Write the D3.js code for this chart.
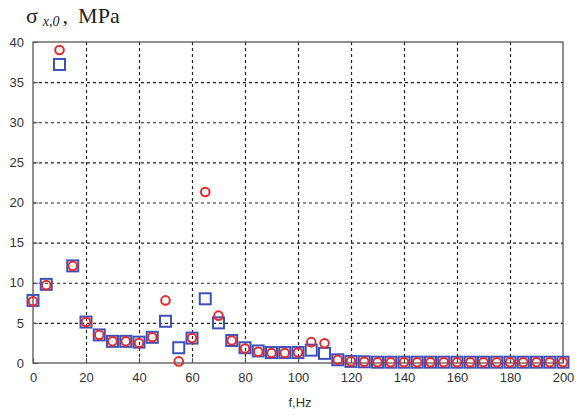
<!DOCTYPE html>
<html>
<head>
<meta charset="utf-8">
<script src="https://cdn.jsdelivr.net/npm/d3@7"></script>
<style>
	body { margin: 0; background: #fff; }
	svg { display: block; }
	.tick text { font-family: "Liberation Sans", Arial, sans-serif; font-size: 13px; fill: #333; }
	.grid line { stroke: #222; stroke-dasharray: 3,3; stroke-width: 1.2; }
	.grid .domain { display: none; }
</style>
</head>
<body>
<svg id="chart" width="580" height="415"></svg>
<script>
const Width = 580;
const Height = 415;
const margin = {left: 33, right: 17, top: 42, bottom: 52};

// frequency, Hz
const freq = d3.range(0, 201, 5);
// sigma x,0 in MPa
const squares = [7.8, 9.8, 37.2, 12.1, 5.1, 3.5, 2.7, 2.7, 2.6, 3.2, 5.2, 1.9, 3.1, 8.0, 5.0, 2.8, 1.9, 1.5, 1.3, 1.3, 1.3, 1.6, 1.2, 0.4, 0.2, 0.15,
	0.1, 0.1, 0.1, 0.1, 0.1, 0.1, 0.1, 0.1, 0.1, 0.1, 0.1, 0.1, 0.1, 0.1, 0.1];
const circles = [7.7, 9.7, 39.0, 12.1, 5.1, 3.5, 2.7, 2.7, 2.5, 3.2, 7.8, 0.2, 3.1, 21.3, 5.9, 2.8, 1.8, 1.4, 1.25, 1.25, 1.3, 2.6, 2.45, 0.4, 0.2, 0.15,
	0.1, 0.1, 0.1, 0.1, 0.1, 0.1, 0.1, 0.1, 0.1, 0.1, 0.1, 0.1, 0.1, 0.1, 0.1];
const xTicks = d3.range(0, 201, 20);
const yTicks = d3.range(0, 41, 5);

const chart = d3.select("#chart");
const x = d3.scaleLinear().domain([0, 200]).range([margin.left, Width - margin.right]);
const y = d3.scaleLinear().domain([0, 40]).range([Height - margin.bottom, margin.top]);

// dotted grid first, so the markers cover it
const gx = chart.append("g").attr("class", "grid")
	.attr("transform", `translate(0,${Height - margin.bottom})`)
	.call(d3.axisBottom(x).tickValues(xTicks.slice(1, -1)).tickSize(-(Height - margin.bottom - margin.top)).tickFormat(""));
const gy = chart.append("g").attr("class", "grid")
	.attr("transform", `translate(${margin.left},0)`)
	.call(d3.axisLeft(y).tickValues(yTicks.slice(1, -1)).tickSize(-(Width - margin.left - margin.right)).tickFormat(""));

// box around the plot
chart.append("rect")
	.attr("x", margin.left).attr("y", margin.top)
	.attr("width", Width - margin.left - margin.right)
	.attr("height", Height - margin.top - margin.bottom)
	.attr("fill", "none").attr("stroke", "#555").attr("stroke-width", 1.3);

// axes with inward ticks
const xaxis = chart.append("g")
	.attr("transform", `translate(0,${Height - margin.bottom})`)
	.call(d3.axisBottom(x).tickValues(xTicks).tickSize(-5).tickPadding(10).tickSizeOuter(0));
xaxis.select(".domain").remove();
xaxis.selectAll("line").attr("stroke", "#555");
const yaxis = chart.append("g")
	.attr("transform", `translate(${margin.left},0)`)
	.call(d3.axisLeft(y).tickValues(yTicks).tickSize(-5).tickPadding(9).tickSizeOuter(0));
yaxis.select(".domain").remove();
yaxis.selectAll("line").attr("stroke", "#555");

const pts = freq.map((f, i) => ({f: f, s: squares[i], c: circles[i]}));

chart.append("g").selectAll("rect").data(pts).enter().append("rect")
	.attr("x", d => x(d.f) - 5.5).attr("y", d => y(d.s) - 5.5)
	.attr("width", 11).attr("height", 11)
	.attr("fill", "none").attr("stroke", "#3d52b8").attr("stroke-width", 2);

chart.append("g").selectAll("circle").data(pts).enter().append("circle")
	.attr("cx", d => x(d.f)).attr("cy", d => y(d.c)).attr("r", 4.3)
	.attr("fill", "none").attr("stroke", "#e8282c").attr("stroke-width", 2);

// title
const title = chart.append("text")
	.attr("x", 26).attr("y", 23)
	.attr("font-family", "'Liberation Serif', 'Times New Roman', serif")
	.attr("font-size", 22).attr("fill", "#222");
title.append("tspan").text("σ");
title.append("tspan").attr("font-size", 14).attr("font-style", "italic").attr("dx", 5).attr("dy", 3).text("x,0");
title.append("tspan").attr("dx", 3).attr("dy", -3).text(",");
title.append("tspan").attr("dx", 10).text("MPa");

chart.append("text")
	.attr("x", 300).attr("y", 407).attr("text-anchor", "middle")
	.attr("font-family", "'Liberation Sans', Arial, sans-serif").attr("font-size", 13).attr("fill", "#333")
	.text("f,Hz");
</script>
</body>
</html>
